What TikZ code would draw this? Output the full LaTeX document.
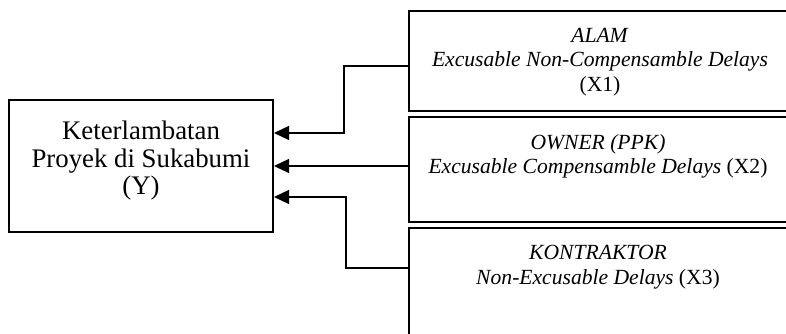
\documentclass[tikz,border=0pt]{standalone}
\usepackage{fontspec}
\setmainfont{Liberation Serif}
\usetikzlibrary{arrows.meta, positioning}

\tikzset{
  boks/.style={draw, line width=2pt, inner sep=0pt},
  teks/.style={align=center, inner sep=0pt},
  panah/.style={-{Triangle[length=15pt,width=14pt]}, line width=1.3pt},
}

\begin{document}
\begin{tikzpicture}[x=1pt, y=1pt]
  \useasboundingbox (0,0) rectangle (786,333);

  % variabel terikat
  \node[boks, minimum width=264pt, minimum height=132pt] (Y) at (141,167) {};
  \node[teks, font=\fontsize{26.8}{27.5}\selectfont, below=22pt of Y.north] (ylbl)
    {Keterlambatan\\Proyek di Sukabumi\\(Y)};

  % variabel bebas
  \node[boks, anchor=north west, minimum width=400pt, minimum height=100pt] (x1) at (408,323) {};
  \node[boks, anchor=north west, minimum width=400pt, minimum height=105pt] (x2) at (408,217) {};
  \node[boks, anchor=north west, minimum width=400pt, minimum height=120pt] (x3) at (408,106) {};

  \node[teks, font=\fontsize{21.6}{24.5}\selectfont, below=18pt of x1.north west, xshift=192pt] (x1lbl)
    {\textit{ALAM}\\\textit{Excusable Non-Compensamble Delays}\\(X1)};
  \node[teks, font=\fontsize{21.6}{24.5}\selectfont, below=18pt of x2.north west, xshift=190pt] (x2lbl)
    {\textit{OWNER (PPK)}\\\textit{Excusable Compensamble Delays} (X2)};
  \node[teks, font=\fontsize{21.6}{24.5}\selectfont, below=18pt of x3.north west, xshift=190pt] (x3lbl)
    {\textit{KONTRAKTOR}\\\textit{Non-Excusable Delays} (X3)};

  % panah
  \draw[panah] ([yshift=-5pt]x1.west) -- ++(-64,0) |- ([yshift=33pt]Y.east);
  \draw[panah] (Y.east -| x2.west) -- (Y.east);
  \draw[panah] ([yshift=20pt]x3.west) -- ++(-62,0) |- ([yshift=-31pt]Y.east);
\end{tikzpicture}
\end{document}
